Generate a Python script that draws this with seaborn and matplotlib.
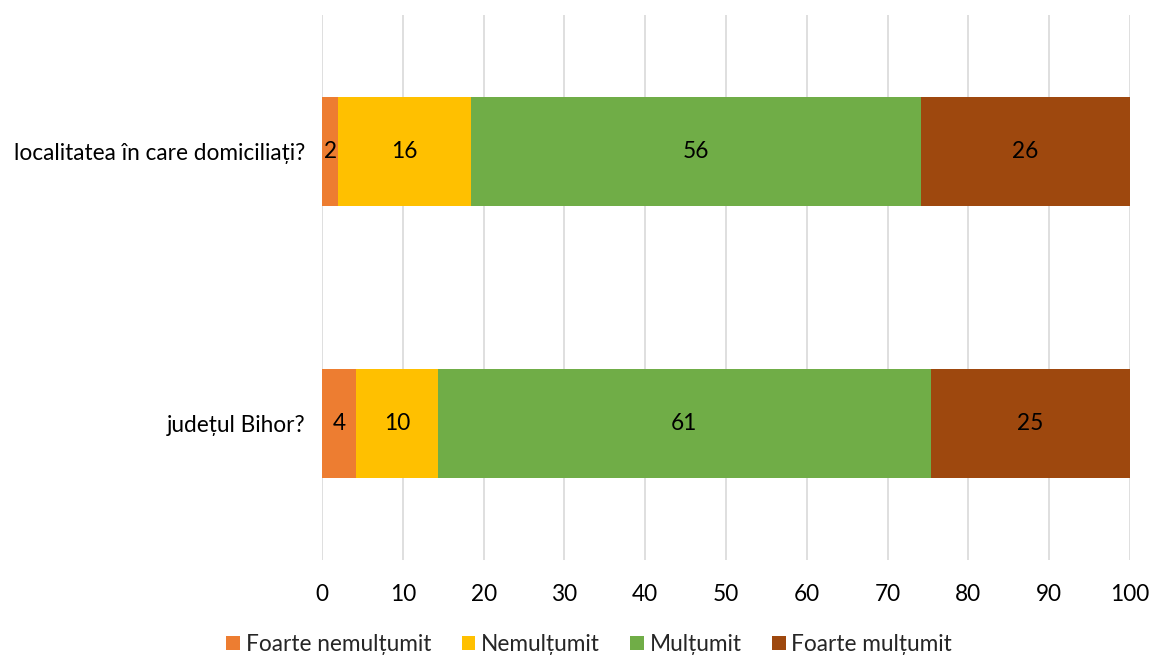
import pandas as pd
import seaborn as sns
import matplotlib.pyplot as plt
from matplotlib.patches import Patch

intrebari = ["localitatea în care domiciliați?", "județul Bihor?"]
categorii = ["Foarte nemulțumit", "Nemulțumit", "Mulțumit", "Foarte mulțumit"]
foarte_nemultumit = [2.0, 4.2]
nemultumit = [16.4, 10.1]
multumit = [55.7, 61.1]
foarte_multumit = [25.9, 24.6]
culori = ["#ED7D31", "#FFC000", "#70AD47", "#9E480E"]

sns.set_style("white")
plt.rcParams['font.family'] = ['Lato', 'DejaVu Sans']
FS = 16.3

serii = [foarte_nemultumit, nemultumit, multumit, foarte_multumit]
df = pd.DataFrame({"Intrebare": intrebari})
cumul = [0, 0]
for cat, vals in zip(categorii, serii):
    df[cat + "_start"] = cumul
    cumul = [c + v for c, v in zip(cumul, vals)]
    df[cat + "_end"] = cumul

fig = plt.figure(figsize=(11.53, 6.56), dpi=100)
ax = fig.add_axes([0.2793, 0.146, 0.7007, 0.831])

# barele stivuite: desenam cumulativ de la ultima la prima
for cat, c in reversed(list(zip(categorii, culori))):
    sns.barplot(data=df, x=cat + "_end", y="Intrebare", color=c, orient="h",
                width=0.4, saturation=1, linewidth=0, ax=ax, zorder=2)

for cat, vals in zip(categorii, serii):
    for i, v in enumerate(vals):
        mijloc = df.loc[i, cat + "_start"] + v / 2
        ax.text(mijloc, i, f"{v:.0f}", ha="center", va="center",
                fontsize=FS, color="black", zorder=3)

ax.set_xlim(0, 100)
ax.set_ylim(1.5, -0.5)
ax.set_xticks(range(0, 101, 10))
ax.grid(axis="x", color="#D9D9D9", linewidth=1.2, zorder=0)
ax.set_axisbelow(True)
for s in ax.spines.values():
    s.set_visible(False)
ax.tick_params(axis="both", length=0, labelsize=FS, colors="black")
ax.tick_params(axis="x", pad=17)
ax.tick_params(axis="y", pad=12)
ax.set_xlabel("")
ax.set_ylabel("")

handles = [Patch(facecolor=c, edgecolor="none") for c in culori]
fig.legend(handles, categorii, loc="center", bbox_to_anchor=(0.511, 0.018),
           ncol=4, frameon=False, fontsize=FS, handlelength=0.6,
           handleheight=0.6, handletextpad=0.25, columnspacing=1.35)

fig.savefig("out.png", dpi=100)
